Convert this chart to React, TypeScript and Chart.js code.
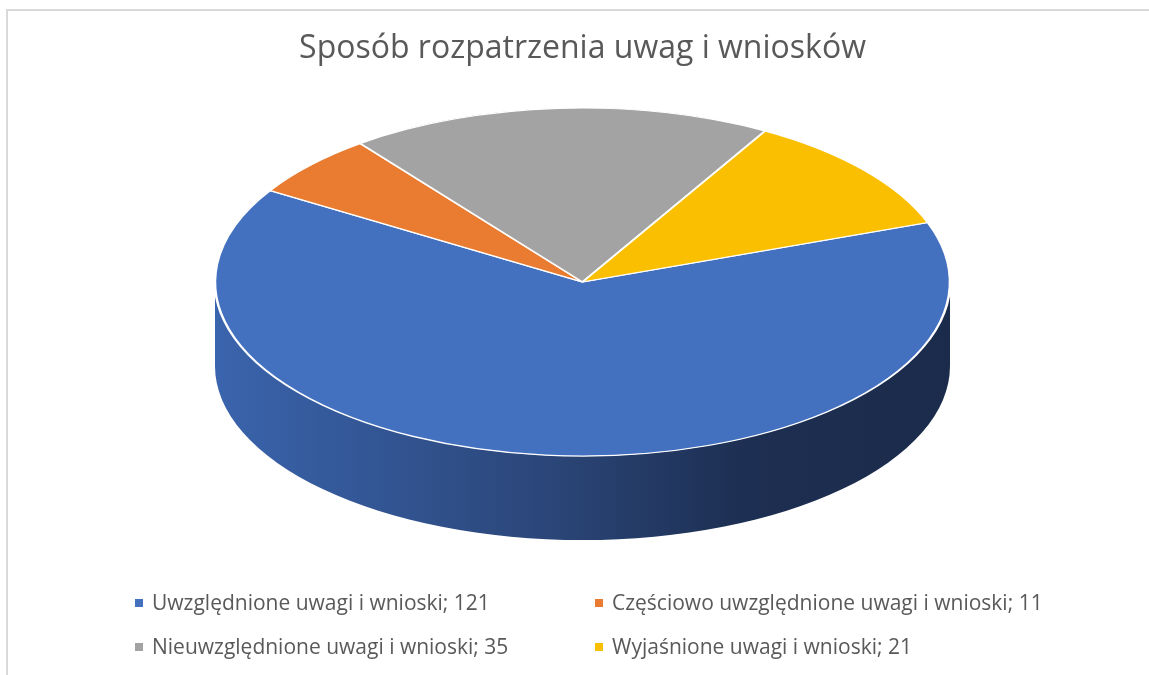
import React, { useEffect, useRef } from "react";
import { Chart, registerables } from "chart.js";

Chart.register(...registerables);

const TITLE = "Sposób rozpatrzenia uwag i wniosków";
const categories = [
  "Uwzględnione uwagi i wnioski",
  "Częściowo uwzględnione uwagi i wnioski",
  "Nieuwzględnione uwagi i wnioski",
  "Wyjaśnione uwagi i wnioski",
];
const values = [121, 11, 35, 21];
const sliceColors = ["#4371c0", "#e97c31", "#a3a3a3", "#fabf00"];
const sideColors = [
  ["#3a64ad", "#2b4679", "#1d2f52", "#1b2b4b"],
  ["#c0652a", "#9a4f1f", "#7a3f18", "#6e3915"],
  ["#8a8a8a", "#6e6e6e", "#555555", "#4d4d4d"],
  ["#d6a400", "#a98100", "#856600", "#7a5e00"],
];

const TILT = 174 / 367.5;
const FONT = "'Open Sans', 'Noto Sans', sans-serif";
const TEXT_COLOR = "#595959";

const framePlugin = {
  id: "frame",
  beforeDraw(chart: any) {
    const ctx = chart.ctx;
    ctx.save();
    ctx.fillStyle = "#ffffff";
    ctx.fillRect(0, 0, chart.width, chart.height);
    ctx.strokeStyle = "#d9d9d9";
    ctx.lineWidth = 2;
    ctx.strokeRect(7, 10, chart.width + 20, chart.height + 20);
    ctx.restore();
  },
};

const pie3dPlugin = {
  id: "pie3d",
  beforeDatasetsDraw(chart: any) {
    const meta = chart.getDatasetMeta(0);
    const area = chart.chartArea;
    const ctx = chart.ctx;
    const rx = (area.right - area.left) / 2;
    const ry = rx * TILT;
    const cx = (area.left + area.right) / 2;
    const cy = area.top + ry;
    const depth = area.bottom - area.top - 2 * ry;

    meta.data.forEach((arc: any, i: number) => {
      const p = arc.getProps(["startAngle", "endAngle"], true);
      for (let k = -1; k <= 1; k++) {
        const lo = Math.max(p.startAngle, 2 * Math.PI * k);
        const hi = Math.min(p.endAngle, 2 * Math.PI * k + Math.PI);
        if (hi > lo) {
          const g = ctx.createLinearGradient(cx - rx, 0, cx + rx, 0);
          const c = sideColors[i % sideColors.length];
          g.addColorStop(0, c[0]);
          g.addColorStop(0.45, c[1]);
          g.addColorStop(0.72, c[2]);
          g.addColorStop(1, c[3]);
          ctx.save();
          ctx.beginPath();
          ctx.ellipse(cx, cy, rx, ry, 0, lo, hi, false);
          ctx.ellipse(cx, cy + depth, rx, ry, 0, hi, lo, true);
          ctx.closePath();
          ctx.fillStyle = g;
          ctx.fill();
          ctx.restore();
        }
      }
    });

    const first = meta.data[0];
    const fp = first.getProps(["x", "y", "outerRadius"], true);
    ctx.save();
    ctx.translate(cx, cy);
    ctx.scale(rx / fp.outerRadius, ry / fp.outerRadius);
    ctx.translate(-fp.x, -fp.y);
  },
  afterDatasetsDraw(chart: any) {
    chart.ctx.restore();
  },
};

const legendPlugin = {
  id: "gridLegend",
  afterDraw(chart: any) {
    const ctx = chart.ctx;
    const labels: string[] = chart.data.labels;
    const data: number[] = chart.data.datasets[0].data;
    const colors: string[] = chart.data.datasets[0].backgroundColor;
    const x0 = 135;
    const colGap = 460;
    const baseline0 = 610;
    const rowGap = 44;
    const size = 21;
    ctx.save();
    ctx.font = `${size}px ${FONT}`;
    ctx.textBaseline = "alphabetic";
    ctx.textAlign = "left";
    labels.forEach((lab, i) => {
      const col = i % 2;
      const row = Math.floor(i / 2);
      const x = x0 + col * colGap;
      const by = baseline0 + row * rowGap;
      ctx.fillStyle = colors[i];
      ctx.fillRect(x, by - 11, 8, 8);
      ctx.fillStyle = TEXT_COLOR;
      ctx.fillText(`${lab}; ${data[i]}`, x + 17, by);
    });
    ctx.restore();
  },
};

export default function App() {
  const ref = useRef<HTMLCanvasElement | null>(null);
  useEffect(() => {
    if (!ref.current) return;
    const chart = new Chart(ref.current, {
      type: "pie",
      data: {
        labels: categories,
        datasets: [
          {
            data: values,
            backgroundColor: sliceColors,
            borderColor: "#ffffff",
            borderWidth: 1.5,
            clip: false,
          } as any,
        ],
      },
      options: {
        responsive: false,
        animation: false,
        events: [],
        rotation: 70,
        layout: { padding: { left: 215, right: 199, top: 0, bottom: 135 } },
        plugins: {
          legend: { display: false },
          tooltip: { enabled: false },
          title: {
            display: true,
            text: TITLE,
            color: TEXT_COLOR,
            font: { family: FONT, size: 32, weight: "normal" as any, lineHeight: 1.2 },
            padding: { top: 30, bottom: 39.6 },
          },
        },
      },
      plugins: [framePlugin, pie3dPlugin, legendPlugin],
    });
    return () => chart.destroy();
  }, []);
  return (
    <div style={{ position: "fixed", left: 0, top: 0, width: 1149, height: 675 }}>
      <canvas ref={ref} width={1149} height={675} />
    </div>
  );
}
